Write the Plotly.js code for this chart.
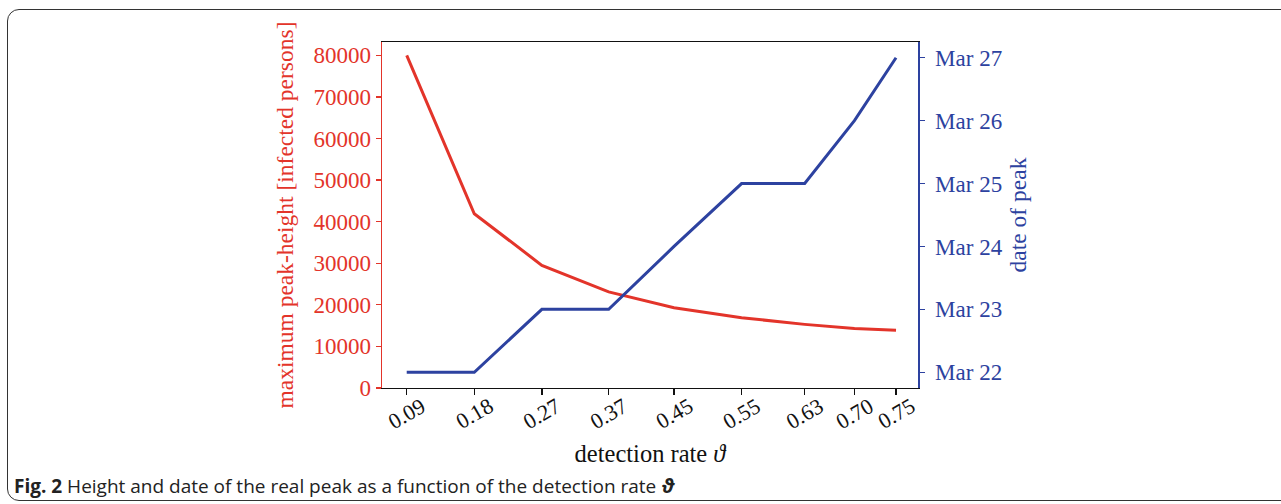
<!DOCTYPE html>
<html>
<head>
<meta charset="utf-8">
<script src="https://cdn.plot.ly/plotly-3.0.1.min.js"></script>
<style>
  html, body { margin: 0; padding: 0; background: #fff; width: 1281px; height: 504px; overflow: hidden; }
  #frame { position: absolute; left: 7px; top: 9px; width: 1320px; height: 490px; border: 1.6px solid #333; border-radius: 12px; pointer-events: none; }
  #chart { position: absolute; left: 0; top: 0; width: 1281px; height: 504px; }
</style>
</head>
<body>
<div id="chart"></div>
<div id="frame"></div>
<script>
// detection rate positions and their printed labels
const detectionRate = [0.091, 0.182, 0.273, 0.363, 0.451, 0.542, 0.627, 0.694, 0.75];
const rateLabels = ["0.09", "0.18", "0.27", "0.37", "0.45", "0.55", "0.63", "0.70", "0.75"];
// maximum peak height [infected persons]
const peakHeight = [80000, 41900, 29500, 23100, 19300, 16900, 15300, 14300, 13900];
// date of peak
const peakDate = ["2020-03-22", "2020-03-22", "2020-03-23", "2020-03-23", "2020-03-24",
                  "2020-03-25", "2020-03-25", "2020-03-26", "2020-03-27"];
const leftTicks = [0, 10000, 20000, 30000, 40000, 50000, 60000, 70000, 80000];

const RED = "#e3342a";
const BLUE = "#2d42a0";
const SERIF = "Liberation Serif, DejaVu Serif, serif";

const traces = [
  { x: detectionRate, y: peakHeight, type: "scatter", mode: "lines", yaxis: "y",
    line: { color: RED, width: 3 }, name: "peak height", hoverinfo: "x+y" },
  { x: detectionRate, y: peakDate, type: "scatter", mode: "lines", yaxis: "y2",
    line: { color: BLUE, width: 3 }, name: "date of peak", hoverinfo: "x+y" }
];

const annotations = rateLabels.map((t, i) => ({
  x: detectionRate[i], xref: "x", y: 0, yref: "paper",
  yshift: -25, text: t, showarrow: false, textangle: -30,
  xanchor: "center", yanchor: "middle",
  font: { family: SERIF, size: 22, color: "#111" }
}));
annotations.push({
  x: 0, xref: "paper", y: 0, yref: "paper", xanchor: "left", yanchor: "bottom",
  xshift: -370, yshift: -113,
  text: "<b>Fig. 2</b> Height and date of the real peak as a function of the detection rate <b><i>ϑ</i></b>",
  showarrow: false, align: "left",
  font: { family: "Open Sans, Liberation Sans, sans-serif", size: 19, color: "#222" }
});

const layout = {
  width: 1281, height: 504,
  margin: { l: 382, r: 363, t: 42, b: 115.5 },
  paper_bgcolor: "rgba(0,0,0,0)", plot_bgcolor: "#fff",
  showlegend: false,
  xaxis: {
    type: "linear", range: [0.0577, 0.7796],
    tickvals: detectionRate, ticktext: rateLabels, showticklabels: false,
    ticks: "outside", ticklen: 6, tickwidth: 1.3, tickcolor: "#111",
    showline: true, linecolor: "#111", linewidth: 1.3, mirror: true,
    showgrid: false, zeroline: false,
    title: { text: "detection rate <i>ϑ</i>", standoff: 50,
             font: { family: SERIF, size: 24.5, color: "#111" } }
  },
  yaxis: {
    range: [0, 83200], tickvals: leftTicks, tickformat: "d",
    ticks: "outside", ticklen: 5, tickwidth: 1.3, tickcolor: RED,
    showline: true, linecolor: RED, linewidth: 1.5,
    showgrid: false, zeroline: false,
    tickfont: { family: SERIF, size: 23, color: RED },
    title: { text: "maximum peak-height [infected persons]", standoff: 13,
             font: { family: SERIF, size: 23.5, color: RED } }
  },
  yaxis2: {
    overlaying: "y", side: "right", type: "date",
    range: ["2020-03-21 18:00", "2020-03-27 06:00"],
    tick0: "2020-03-22", dtick: 86400000, tickformat: "%b %d",
    ticks: "outside", ticklen: 5, tickwidth: 1.3, tickcolor: BLUE,
    ticklabelstandoff: 6,
    showline: true, linecolor: BLUE, linewidth: 1.5,
    showgrid: false, zeroline: false,
    tickfont: { family: SERIF, size: 23, color: BLUE },
    title: { text: "date of peak", standoff: 8,
             font: { family: SERIF, size: 23.5, color: BLUE } }
  },
  annotations: annotations
};

Plotly.newPlot("chart", traces, layout, { displayModeBar: false, staticPlot: true });
</script>
</body>
</html>
